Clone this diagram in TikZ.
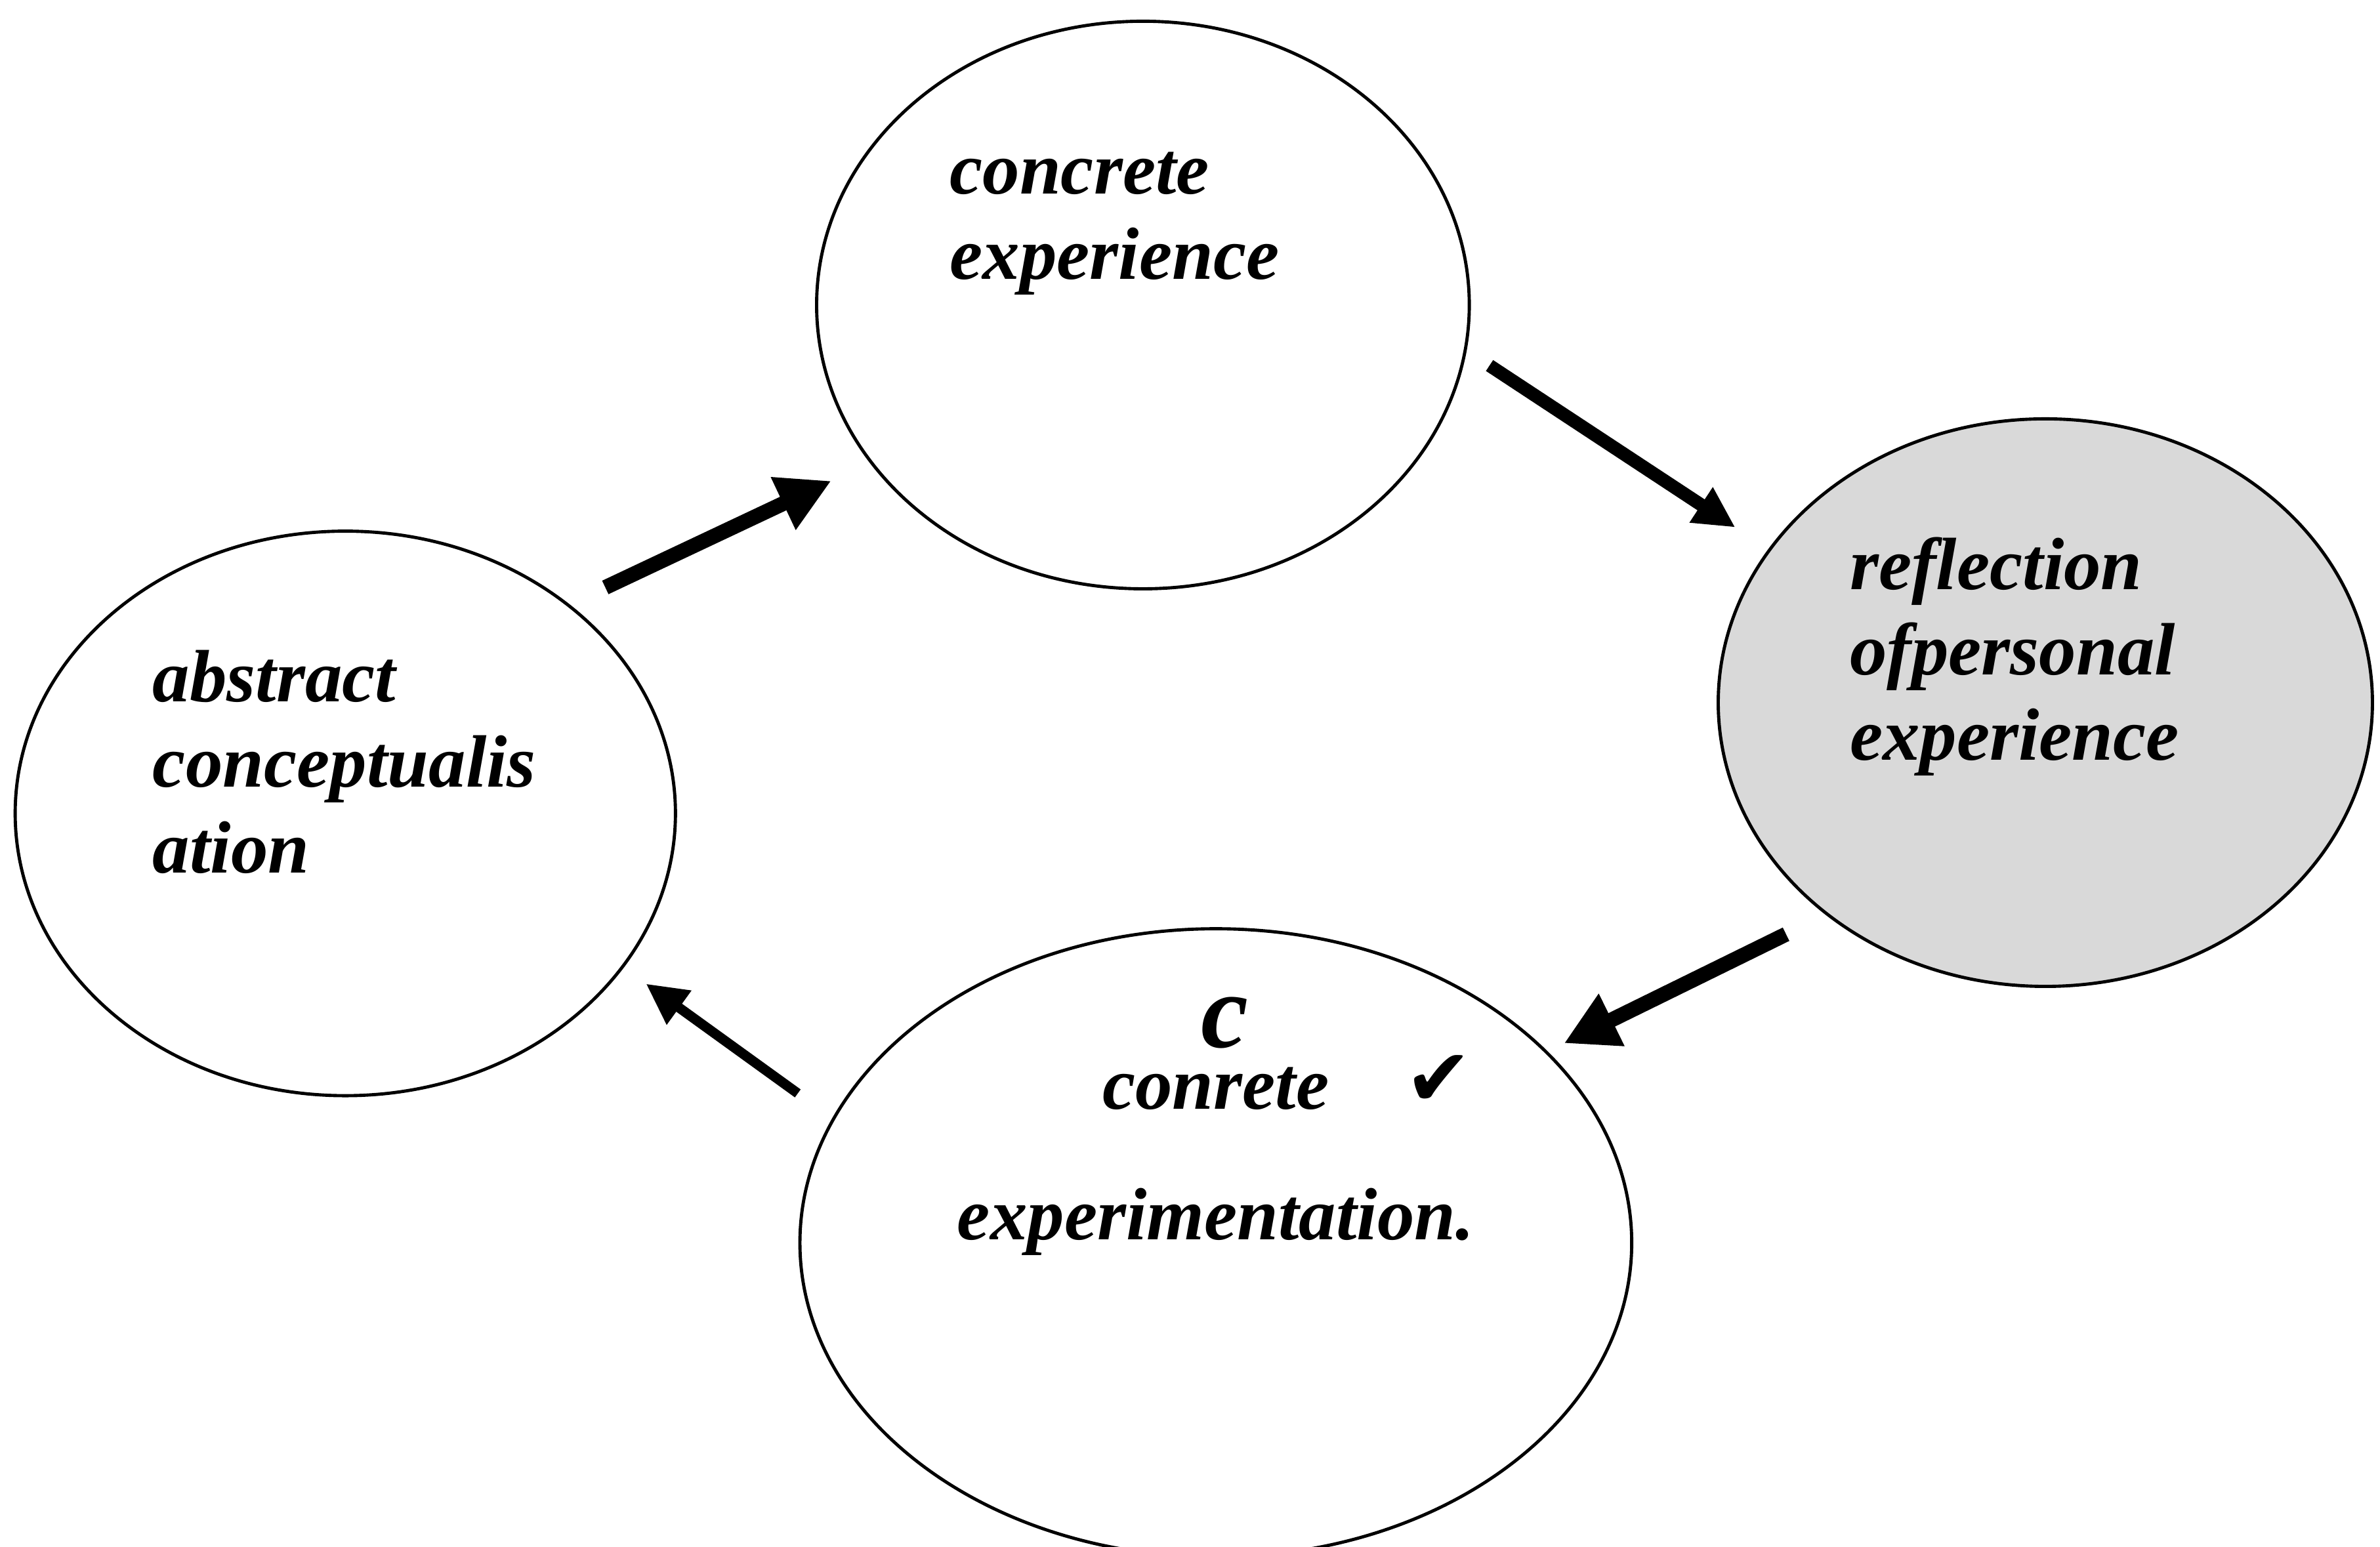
\documentclass[tikz,border=0pt]{standalone}
\usepackage{fontspec}
\setmainfont{Liberation Serif}
\newfontfamily\symfont{DejaVu Sans}
\usetikzlibrary{arrows.meta,shapes.geometric}

\begin{document}
\begin{tikzpicture}[
  > = {Triangle[length=3.5mm,width=3.6mm]},
  bubble/.style = {draw,ellipse,line width=0.6pt,inner sep=0pt},
  word/.style = {font=\bfseries\itshape\fontsize{13.9}{16}\selectfont,inner sep=0pt,align=left,anchor=base west},
  flow/.style = {->,line width=2.8pt},
  thin flow/.style = {->,line width=2.2pt,>={Triangle[length=2.7mm,width=2.6mm]}}
  ]
	\useasboundingbox (0,0) rectangle (15.68,10.19);

	\node[bubble,minimum width=4.30cm,minimum height=3.74cm] (ce) at (7.53,8.18) {};
	\node[bubble,fill=black!15,minimum width=4.31cm,minimum height=3.74cm] (ro) at (13.475,5.56) {};
	\node[bubble,minimum width=4.35cm,minimum height=3.72cm] (ac) at (2.275,4.83) {};
	\node[bubble,minimum width=5.48cm,minimum height=4.14cm] (ex) at (8.01,2.00) {};

	% base anchor sits on the last line
	\node[word] (ce-txt) at (6.25,8.35) {concrete\\experience};
	\node[word] (ro-txt) at (12.18,5.18) {reflection\\ofpersonal\\experience};
	\node[word] (ac-txt) at (1.00,4.44) {abstract\\conceptualis\\ation};
	\node[word,align=center,anchor=base] (ex-txt) at (8.01,2.02) {conrete\\[8.5pt]experimentation.};

	\node[font=\bfseries\itshape\fontsize{20}{20}\selectfont,inner sep=0pt,text depth=0pt,anchor=base] (mark-c) at (8.07,3.29) {c};
	\node[font=\symfont\fontsize{15}{15}\selectfont,inner sep=0pt] (mark-ok) at (9.48,3.07) {✔};

	\draw[flow,shorten <=2.6mm,shorten >=2.8mm] (ac.43) -- (ce.210.2);
	\draw[thin flow,line width=2.45pt,shorten <=1.8mm,shorten >=2.6mm] (ce.-8.6) -- (ro.151.6);
	\draw[flow,shorten <=2.9mm,shorten >=1.2mm] (ro.224.2) -- (ex.30.3);
	\draw[thin flow,line width=1.85pt,shorten <=2.8mm,shorten >=1.8mm] (ex.162.2) -- (ac.-29.8);

\end{tikzpicture}
\end{document}
